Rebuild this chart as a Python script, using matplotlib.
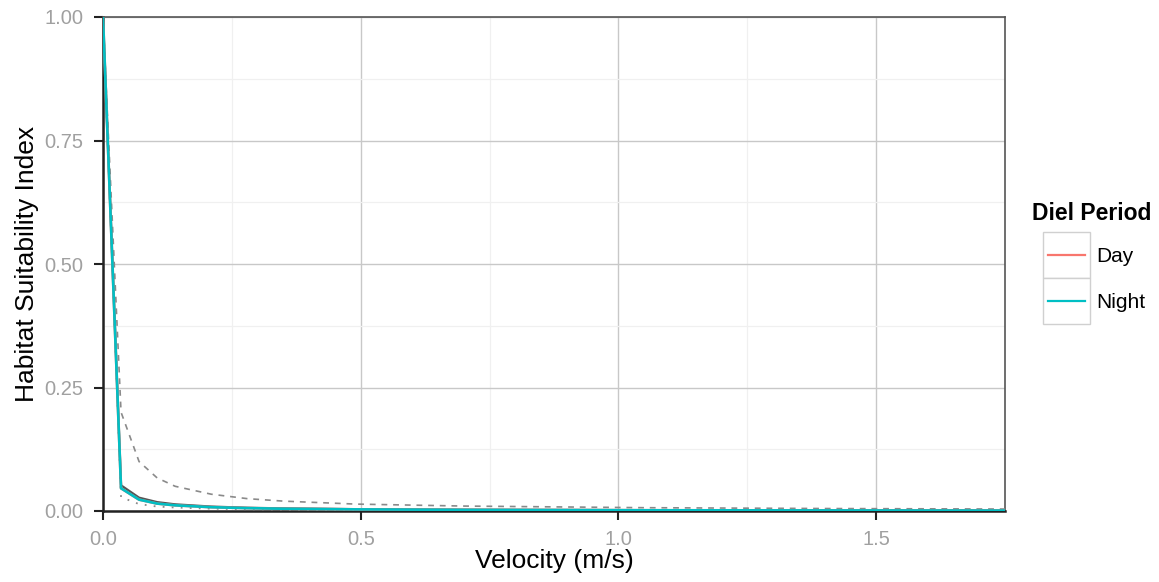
import matplotlib
matplotlib.use("Agg")
import matplotlib.pyplot as plt
from matplotlib.lines import Line2D
from matplotlib.patches import Rectangle
from matplotlib.ticker import MultipleLocator

plt.rcParams["font.family"] = ["Liberation Sans", "DejaVu Sans"]

# Velocity grid (m/s) and habitat suitability curves
velocity = [0, 0.035, 0.07, 0.105, 0.14, 0.21, 0.28, 0.35, 0.49, 0.7, 1.05, 1.4, 1.75]
hsi_pooled = [1, 0.052, 0.027, 0.018, 0.0135, 0.009, 0.0066, 0.0053, 0.0038, 0.0026, 0.0018, 0.0013, 0.001]
hsi_day = [1, 0.046, 0.023, 0.015, 0.0115, 0.0077, 0.0058, 0.0046, 0.0033, 0.0023, 0.0015, 0.0012, 0.0009]
hsi_night = [1, 0.046, 0.023, 0.015, 0.0115, 0.0077, 0.0058, 0.0046, 0.0033, 0.0023, 0.0015, 0.0012, 0.0009]
hsi_upper = [1, 0.20, 0.10, 0.067, 0.05, 0.034, 0.025, 0.02, 0.014, 0.01, 0.0067, 0.005, 0.004]
hsi_lower = [1, 0.028, 0.014, 0.009, 0.007, 0.0047, 0.0035, 0.0028, 0.002, 0.0014, 0.0009, 0.0007, 0.0006]

periods = ["Day", "Night"]
period_colors = ["#F8766D", "#00BFC4"]

x_ticks = [0.0, 0.5, 1.0, 1.5]
x_tick_labels = ["0.0", "0.5", "1.0", "1.5"]
y_ticks = [0.0, 0.25, 0.5, 0.75, 1.0]
y_tick_labels = ["0.00", "0.25", "0.50", "0.75", "1.00"]

W, H = 1159, 582
fig = plt.figure(figsize=(W / 100, H / 100), dpi=100)
ax = fig.add_axes([103 / W, 1 - 511 / H, (1005 - 103) / W, (511 - 17) / H])

ax.plot(velocity, hsi_upper, color="#8a8a8a", lw=1.2, ls=(0, (3.5, 3.5)), zorder=3)
ax.plot(velocity, hsi_lower, color="#8a8a8a", lw=1.3, ls=(0, (1, 4)), zorder=3)
ax.plot(velocity, hsi_pooled, color="#555555", lw=1.6, zorder=4)
ax.plot(velocity, hsi_day, color=period_colors[0], lw=1.9, zorder=5)
ax.plot(velocity, hsi_night, color=period_colors[1], lw=1.9, zorder=6)

ax.set_xlim(0, 1.75)
ax.set_ylim(0, 1.0)
ax.set_xticks(x_ticks)
ax.set_xticklabels(x_tick_labels)
ax.set_yticks(y_ticks)
ax.set_yticklabels(y_tick_labels)
ax.xaxis.set_minor_locator(MultipleLocator(0.25))
ax.yaxis.set_minor_locator(MultipleLocator(0.125))

ax.grid(which="major", color="#c8c8c8", lw=1.0, zorder=0)
ax.grid(which="minor", color="#f0f0f0", lw=0.9, zorder=0)
ax.set_axisbelow(True)

for side in ["top", "right"]:
    ax.spines[side].set_color("#555555")
    ax.spines[side].set_linewidth(1.2)
for side in ["left", "bottom"]:
    ax.spines[side].set_color("#222222")
    ax.spines[side].set_linewidth(1.8)

ax.tick_params(which="major", length=6.5, width=1.5, color="#222222",
               labelsize=14.5, labelcolor="#a0a0a0", pad=7.5)
ax.tick_params(which="minor", length=0)

ax.set_xlabel("Velocity (m/s)", fontsize=19, labelpad=0)
ax.set_ylabel("Habitat Suitability Index", fontsize=19, labelpad=4)

# Legend drawn as keyed boxes in figure coordinates
def fx(px):
    return px / W

def fy(py):
    return 1 - py / H

fig.text(fx(1032), fy(213), "Diel Period", fontsize=16.5, fontweight="bold",
         ha="left", va="center")
key_top = 232
key_h = 46
for i, (name, col) in enumerate(zip(periods, period_colors)):
    top = key_top + i * key_h
    fig.add_artist(Rectangle((fx(1043), fy(top + key_h)), fx(1090) - fx(1043),
                             fy(top) - fy(top + key_h), transform=fig.transFigure,
                             facecolor="white", edgecolor="#d0d0d0", lw=1.0))
    cy = top + key_h / 2
    fig.add_artist(Line2D([fx(1048), fx(1085)], [fy(cy), fy(cy)],
                          transform=fig.transFigure, color=col, lw=1.6))
    fig.text(fx(1096), fy(cy + 2), name, fontsize=15, ha="left", va="center")

fig.savefig("out.png", dpi=100)
